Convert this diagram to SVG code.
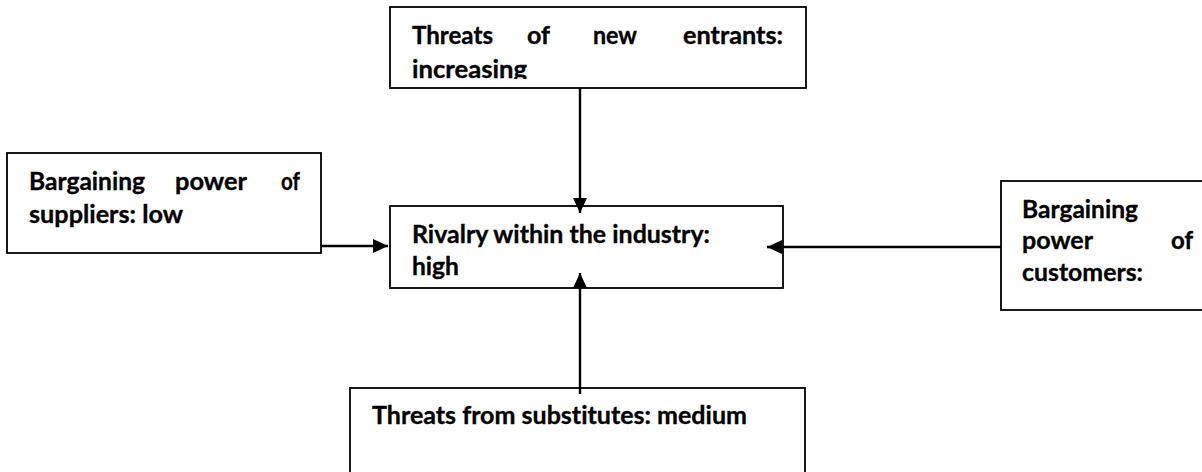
<svg xmlns="http://www.w3.org/2000/svg" width="1202" height="472" viewBox="0 0 1202 472">
  <style>
    .box { fill: #ffffff; stroke: #000000; stroke-width: 1.8; }
    .t { font-family: Lato, "Open Sans", "Liberation Sans", sans-serif; font-weight: bold; font-size: 25px; fill: #000000; stroke: #000000; stroke-width: 0.35; font-variant-ligatures: none; }
    .conn { stroke: #000000; stroke-width: 2.4; fill: none; }
  </style>
  <defs>
    <marker id="arrow" markerUnits="userSpaceOnUse" markerWidth="16" markerHeight="15" refX="15" refY="7" orient="auto">
      <path d="M0,0 L15,7 L0,14 z" fill="#000000"/>
    </marker>
    <clipPath id="clipTop">
      <rect x="390" y="7" width="416" height="72"/>
    </clipPath>
  </defs>
  <rect width="1202" height="472" fill="#ffffff"/>

  <g id="node-new-entrants">
    <rect class="box" x="390" y="7" width="416" height="81"/>
    <g clip-path="url(#clipTop)">
      <text class="t" x="412" y="44" textLength="81" lengthAdjust="spacingAndGlyphs">Threats</text>
      <text class="t" x="527" y="44" textLength="23" lengthAdjust="spacingAndGlyphs">of</text>
      <text class="t" x="593" y="44" textLength="44" lengthAdjust="spacingAndGlyphs">new</text>
      <text class="t" x="683" y="44" textLength="100" lengthAdjust="spacingAndGlyphs">entrants:</text>
      <text class="t" x="412" y="78" textLength="115" lengthAdjust="spacingAndGlyphs">increasing</text>
    </g>
  </g>

  <g id="node-suppliers">
    <rect class="box" x="7" y="153" width="314" height="100"/>
    <text class="t" x="29" y="190" textLength="116" lengthAdjust="spacingAndGlyphs">Bargaining</text>
    <text class="t" x="175" y="190" textLength="72" lengthAdjust="spacingAndGlyphs">power</text>
    <text class="t" x="281" y="190" textLength="19" lengthAdjust="spacingAndGlyphs">of</text>
    <text class="t" x="29" y="223" textLength="154" lengthAdjust="spacingAndGlyphs">suppliers: low</text>
  </g>

  <g id="node-rivalry">
    <rect class="box" x="390" y="206" width="393" height="82"/>
    <text class="t" x="412" y="243" textLength="298" lengthAdjust="spacingAndGlyphs">Rivalry within the industry:</text>
    <text class="t" x="412" y="275" textLength="47" lengthAdjust="spacingAndGlyphs">high</text>
  </g>

  <g id="node-customers">
    <rect class="box" x="1001" y="181" width="220" height="129"/>
    <text class="t" x="1022" y="218" textLength="116" lengthAdjust="spacingAndGlyphs">Bargaining</text>
    <text class="t" x="1022" y="249" textLength="71" lengthAdjust="spacingAndGlyphs">power</text>
    <text class="t" x="1171" y="249" textLength="22" lengthAdjust="spacingAndGlyphs">of</text>
    <text class="t" x="1022" y="281" textLength="121" lengthAdjust="spacingAndGlyphs">customers:</text>
  </g>

  <g id="node-substitutes">
    <rect class="box" x="350" y="388" width="455" height="100"/>
    <text class="t" x="372" y="424" textLength="375" lengthAdjust="spacingAndGlyphs">Threats from substitutes: medium</text>
  </g>

  <g id="connectors">
    <line class="conn" x1="580" y1="88" x2="580" y2="213" marker-end="url(#arrow)"/>
    <line class="conn" x1="580" y1="394" x2="580" y2="273" marker-end="url(#arrow)"/>
    <line class="conn" x1="321" y1="246" x2="388" y2="246" marker-end="url(#arrow)"/>
    <line class="conn" x1="1001" y1="247" x2="767" y2="247" marker-end="url(#arrow)"/>
  </g>
</svg>
